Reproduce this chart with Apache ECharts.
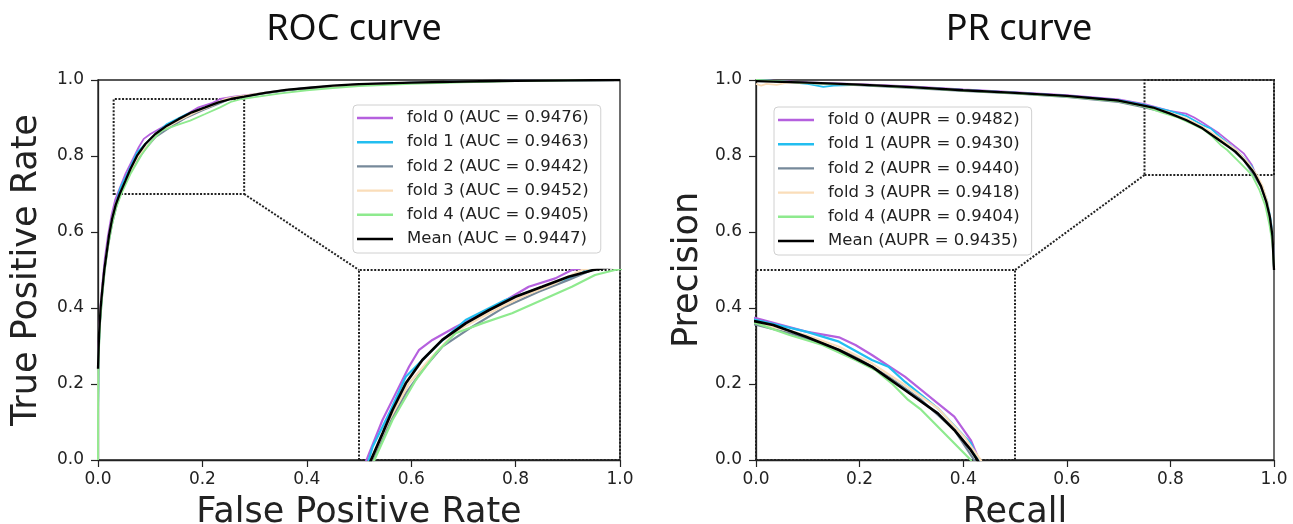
<!DOCTYPE html>
<html><head><meta charset="utf-8">
<script src="https://cdn.jsdelivr.net/npm/echarts@6/dist/echarts.min.js"></script>
<style>html,body{margin:0;padding:0;background:#fff}#c{width:1293px;height:524px}</style>
</head><body><div id="c"></div>
<script>
// ---------------- data ----------------
const axisTicks = [0.0, 0.2, 0.4, 0.6, 0.8, 1.0];
const foldLabels = ['fold 0', 'fold 1', 'fold 2', 'fold 3', 'fold 4', 'Mean'];
const rocAUC = ['0.9476', '0.9463', '0.9442', '0.9452', '0.9405', '0.9447'];
const prAUPR = ['0.9482', '0.9430', '0.9440', '0.9418', '0.9404', '0.9435'];

// ROC curves: [false positive rate, true positive rate]
const roc_fold0 = [[0,0],[0,0.14],[0.001,0.3],[0.004,0.39],[0.008,0.46],[0.013,0.53],[0.019,0.59],[0.026,0.645],[0.033,0.685],[0.0398,0.709],[0.0526,0.753],[0.0653,0.788],[0.078,0.823],[0.0876,0.845],[0.1003,0.858],[0.1225,0.875],[0.1543,0.897],[0.1925,0.928],[0.218,0.939],[0.2339,0.95],[0.26,0.956],[0.3,0.963],[0.35,0.972],[0.4,0.979],[0.5,0.989],[0.6,0.993],[0.7,0.996],[0.8,0.998],[0.9,0.999],[1,1]];
const roc_fold1 = [[0,0],[0,0.1],[0.001,0.28],[0.004,0.37],[0.008,0.44],[0.013,0.51],[0.019,0.57],[0.026,0.63],[0.034,0.675],[0.0431,0.7175],[0.0589,0.7614],[0.0748,0.8096],[0.0907,0.8316],[0.1067,0.8535],[0.1321,0.8842],[0.1702,0.9105],[0.2021,0.9259],[0.2307,0.9386],[0.2498,0.95],[0.28,0.957],[0.32,0.966],[0.37,0.975],[0.42,0.981],[0.5,0.988],[0.6,0.993],[0.7,0.996],[0.8,0.998],[0.9,0.999],[1,1]];
const roc_fold2 = [[0,0],[0,0.12],[0.001,0.27],[0.004,0.36],[0.008,0.43],[0.013,0.5],[0.019,0.56],[0.027,0.62],[0.035,0.665],[0.0431,0.70],[0.0589,0.7483],[0.0748,0.7877],[0.0907,0.8184],[0.1098,0.8491],[0.1385,0.8754],[0.1702,0.9018],[0.2021,0.9215],[0.2307,0.9368],[0.253,0.95],[0.28,0.956],[0.32,0.965],[0.37,0.974],[0.42,0.98],[0.5,0.987],[0.6,0.992],[0.7,0.995],[0.8,0.998],[0.9,0.999],[1,1]];
const roc_fold3 = [[0,0],[0,0.15],[0.001,0.29],[0.004,0.38],[0.008,0.45],[0.013,0.51],[0.019,0.57],[0.026,0.63],[0.034,0.675],[0.0431,0.7044],[0.0589,0.7526],[0.078,0.8009],[0.0971,0.8316],[0.1225,0.8689],[0.1543,0.893],[0.1861,0.9149],[0.218,0.9325],[0.2434,0.95],[0.27,0.957],[0.31,0.965],[0.36,0.974],[0.42,0.981],[0.5,0.988],[0.6,0.993],[0.7,0.996],[0.8,0.998],[0.9,0.999],[1,1]];
const roc_fold4 = [[0,0],[0,0.11],[0.001,0.26],[0.004,0.36],[0.008,0.43],[0.013,0.5],[0.019,0.56],[0.027,0.62],[0.035,0.665],[0.0447,0.70],[0.0621,0.7526],[0.0844,0.8053],[0.1035,0.8404],[0.1225,0.8667],[0.1479,0.8798],[0.1766,0.893],[0.2053,0.9105],[0.2339,0.928],[0.2561,0.9434],[0.2752,0.95],[0.3,0.955],[0.35,0.965],[0.4,0.973],[0.45,0.979],[0.5,0.984],[0.6,0.99],[0.7,0.994],[0.8,0.997],[0.9,0.999],[1,1]];
const roc_mean  = [[0,0.24],[0.002,0.33],[0.005,0.40],[0.008,0.445],[0.012,0.50],[0.016,0.54],[0.021,0.59],[0.027,0.635],[0.034,0.672],[0.0415,0.70],[0.0526,0.7351],[0.0621,0.7658],[0.0748,0.8009],[0.0907,0.8316],[0.1098,0.858],[0.1321,0.8798],[0.1543,0.897],[0.1798,0.9149],[0.2053,0.928],[0.2307,0.9412],[0.2545,0.95],[0.28,0.956],[0.32,0.966],[0.36,0.974],[0.4,0.979],[0.45,0.985],[0.5,0.989],[0.6,0.993],[0.7,0.996],[0.8,0.998],[0.9,0.999],[1,1]];

// PR curves: [recall, precision]
const pr_fold0 = [[0,1],[0.05,0.997],[0.1,0.994],[0.2,0.989],[0.3,0.983],[0.4,0.975],[0.5,0.968],[0.6,0.96],[0.7,0.949],[0.7507,0.9364],[0.7983,0.9189],[0.8301,0.9114],[0.846,0.9013],[0.8619,0.8882],[0.8937,0.8596],[0.9255,0.8246],[0.9414,0.807],[0.9573,0.7763],[0.9653,0.75],[0.976,0.72],[0.986,0.68],[0.993,0.63],[0.998,0.58],[1,0.5]];
const pr_fold1 = [[0,1],[0.05,0.996],[0.1,0.99],[0.13,0.982],[0.15,0.985],[0.2,0.987],[0.3,0.981],[0.4,0.974],[0.5,0.967],[0.6,0.958],[0.7,0.947],[0.7507,0.9342],[0.7983,0.9189],[0.8301,0.9057],[0.8619,0.8816],[0.8778,0.8728],[0.8937,0.853],[0.9255,0.818],[0.9573,0.772],[0.9643,0.75],[0.977,0.72],[0.987,0.68],[0.994,0.63],[0.998,0.58],[1,0.5]];
const pr_fold2 = [[0,1],[0.05,0.996],[0.1,0.992],[0.2,0.986],[0.3,0.979],[0.4,0.971],[0.5,0.964],[0.6,0.955],[0.7,0.942],[0.7507,0.9276],[0.7824,0.9167],[0.8142,0.9035],[0.846,0.886],[0.8778,0.8596],[0.9096,0.829],[0.9414,0.7895],[0.9605,0.75],[0.974,0.72],[0.985,0.68],[0.992,0.63],[0.997,0.58],[1,0.5]];
const pr_fold3 = [[0,0.99],[0.01,0.985],[0.02,0.99],[0.04,0.987],[0.06,0.993],[0.1,0.992],[0.2,0.988],[0.3,0.981],[0.4,0.973],[0.5,0.966],[0.6,0.957],[0.7,0.945],[0.7507,0.9307],[0.7983,0.9145],[0.8301,0.8991],[0.8619,0.8772],[0.8937,0.8487],[0.9255,0.818],[0.9509,0.7807],[0.9668,0.75],[0.978,0.72],[0.987,0.68],[0.993,0.63],[0.998,0.58],[1,0.5]];
const pr_fold4 = [[0,1],[0.05,0.996],[0.1,0.992],[0.2,0.987],[0.3,0.98],[0.4,0.972],[0.5,0.965],[0.6,0.956],[0.7,0.944],[0.7507,0.9298],[0.7824,0.9145],[0.8142,0.9013],[0.846,0.8816],[0.8651,0.8684],[0.881,0.8509],[0.8969,0.829],[0.9096,0.8158],[0.9287,0.7895],[0.9478,0.7632],[0.9573,0.75],[0.972,0.71],[0.983,0.67],[0.991,0.62],[0.997,0.57],[1,0.5]];
const pr_mean  = [[0,0.997],[0.05,0.995],[0.1,0.993],[0.2,0.988],[0.3,0.981],[0.4,0.973],[0.5,0.966],[0.6,0.958],[0.7,0.946],[0.7507,0.932],[0.7665,0.9276],[0.7983,0.9123],[0.8301,0.8947],[0.8619,0.8728],[0.8937,0.8421],[0.9255,0.8114],[0.9414,0.7895],[0.9573,0.7632],[0.9637,0.75],[0.975,0.72],[0.985,0.68],[0.992,0.64],[0.997,0.59],[1,0.5]];

// zoomed windows (data units) and where the insets sit (data units of the main axes)
const rocZoomX = [0.03, 0.28], rocZoomY = [0.70, 0.95];
const rocInsetX = [0.5, 1.0],  rocInsetY = [0.0, 0.5];
const prZoomX = [0.75, 1.0],   prZoomY = [0.75, 1.0];
const prInsetX = [0.0, 0.5],   prInsetY = [0.0, 0.5];

// ---------------- styling / layout ----------------
const colors = ['#B560DE', '#22BEF0', '#76899A', '#FADDB9', '#8EEA8E', '#000000'];
const widths = [1.8, 1.8, 1.8, 1.8, 1.8, 2.3];
const INK = '#222';
const G0 = {left: 98, top: 80, width: 522, height: 380};
const G2 = {left: 756, top: 80, width: 518, height: 380};
function insetGrid(G, ix, iy) {
  return {left: G.left + ix[0] * G.width, top: G.top + (1 - iy[1]) * G.height,
          width: (ix[1] - ix[0]) * G.width, height: (iy[1] - iy[0]) * G.height,
          show: false, containLabel: false, outerBoundsMode: 'none'};
}
const rocData = [roc_fold0, roc_fold1, roc_fold2, roc_fold3, roc_fold4, roc_mean];
const prData = [pr_fold0, pr_fold1, pr_fold2, pr_fold3, pr_fold4, pr_mean];
const rocNames = foldLabels.map((f, i) => f + ' (AUC = ' + rocAUC[i] + ')');
const prNames = foldLabels.map((f, i) => f + ' (AUPR = ' + prAUPR[i] + ')');

const dotted = [2, 1.6];
function mainAxis(type, gi, name, gap) {
  return {
    type: 'value', gridIndex: gi, min: 0, max: 1, interval: 0.2,
    name: name, nameLocation: 'middle', nameGap: gap,
    nameTextStyle: {fontFamily: 'DejaVu Sans', fontSize: 35, color: INK},
    axisLine: {show: true, onZero: false, lineStyle: {color: INK, width: 1.3}},
    axisTick: {show: true, length: 7, lineStyle: {color: INK, width: 1.2}},
    axisLabel: {fontFamily: 'DejaVu Sans', fontSize: 17, color: INK, margin: type === 'x' ? 11 : 14,
                formatter: v => axisTicks.some(t => Math.abs(t - v) < 1e-9) ? v.toFixed(1) : ''},
    splitLine: {show: false}
  };
}
function insetAxis(gi, rng) {
  return {type: 'value', gridIndex: gi, min: rng[0], max: rng[1],
          axisLine: {show: false}, axisTick: {show: false}, axisLabel: {show: false}, splitLine: {show: false}};
}

const series = [];
function addPanel(data, names, mainIdx, insetIdx, zoomX, zoomY, insX, insY, from, to) {
  data.forEach((d, i) => {
    const s = {
      type: 'line', name: names[i], data: d, xAxisIndex: mainIdx, yAxisIndex: mainIdx,
      showSymbol: false, symbol: 'none', silent: true, z: 2 + i,
      lineStyle: {color: colors[i], width: widths[i]}, itemStyle: {color: colors[i]}
    };
    if (i === data.length - 1) {
      s.markArea = {silent: true, animation: false,
        itemStyle: {color: 'rgba(0,0,0,0)', borderColor: INK, borderWidth: 2, borderType: dotted},
        data: [[{xAxis: zoomX[0], yAxis: zoomY[0]}, {xAxis: zoomX[1], yAxis: zoomY[1]}],
               [{xAxis: insX[0], yAxis: insY[0]}, {xAxis: insX[1], yAxis: insY[1]}]]};
      s.markLine = {silent: true, animation: false, symbol: ['none', 'none'], label: {show: false},
        lineStyle: {color: INK, width: 2, type: dotted},
        data: [[{coord: from}, {coord: to}]]};
    }
    series.push(s);
  });
  data.forEach((d, i) => {
    series.push({
      type: 'line', name: names[i], data: d, xAxisIndex: insetIdx, yAxisIndex: insetIdx,
      showSymbol: false, symbol: 'none', silent: true, clip: true, z: 2 + i,
      lineStyle: {color: colors[i], width: widths[i] + 0.4}, itemStyle: {color: colors[i]}
    });
  });
}
addPanel(rocData, rocNames, 0, 1, rocZoomX, rocZoomY, rocInsetX, rocInsetY,
         [rocZoomX[1], rocZoomY[0]], [rocInsetX[0], rocInsetY[1]]);
addPanel(prData, prNames, 2, 3, prZoomX, prZoomY, prInsetX, prInsetY,
         [prZoomX[0], prZoomY[0]], [prInsetX[1], prInsetY[1]]);

function legend(names, left, top) {
  return {
    data: names.map((n, i) => ({name: n, itemStyle: {color: colors[i]}})),
    orient: 'vertical', left: left, top: top,
    backgroundColor: '#fff', borderColor: '#d0d0d0', borderWidth: 1, borderRadius: 4,
    padding: [4, 12, 5, 4], icon: 'rect', itemWidth: 36, itemHeight: 2.4, itemGap: 6.2,
    selectedMode: false,
    textStyle: {fontFamily: 'DejaVu Sans', fontSize: 16.5, color: INK, lineHeight: 18, padding: [0, 0, 0, 9]}
  };
}

const mainGridBase = {show: true, borderColor: INK, borderWidth: 1.3, backgroundColor: 'transparent',
                      containLabel: false, outerBoundsMode: 'none'};
const option = {
  animation: false,
  backgroundColor: '#fff',
  title: [
    {text: 'ROC curve', left: G0.left + G0.width / 2 - 5, textAlign: 'center', top: 12, padding: 0,
     textStyle: {fontFamily: 'Noto Sans', fontSize: 36, fontWeight: 'normal', color: '#111'}},
    {text: 'PR curve', left: G2.left + G2.width / 2 + 4, textAlign: 'center', top: 12, padding: 0,
     textStyle: {fontFamily: 'Noto Sans', fontSize: 36, fontWeight: 'normal', color: '#111'}}
  ],
  legend: [legend(rocNames, 353, 105), legend(prNames, 774, 107)],
  grid: [
    Object.assign({}, mainGridBase, G0),
    insetGrid(G0, rocInsetX, rocInsetY),
    Object.assign({}, mainGridBase, G2),
    insetGrid(G2, prInsetX, prInsetY)
  ],
  xAxis: [
    mainAxis('x', 0, 'False Positive Rate', 35), insetAxis(1, rocZoomX),
    mainAxis('x', 2, 'Recall', 35), insetAxis(3, prZoomX)
  ],
  yAxis: [
    mainAxis('y', 0, 'True Positive Rate', 54), insetAxis(1, rocZoomY),
    mainAxis('y', 2, 'Precision', 51), insetAxis(3, prZoomY)
  ],
  series: series
};
const chart = echarts.init(document.getElementById('c'), null, {renderer: 'canvas'});
chart.setOption(option);
</script>
</body></html>
